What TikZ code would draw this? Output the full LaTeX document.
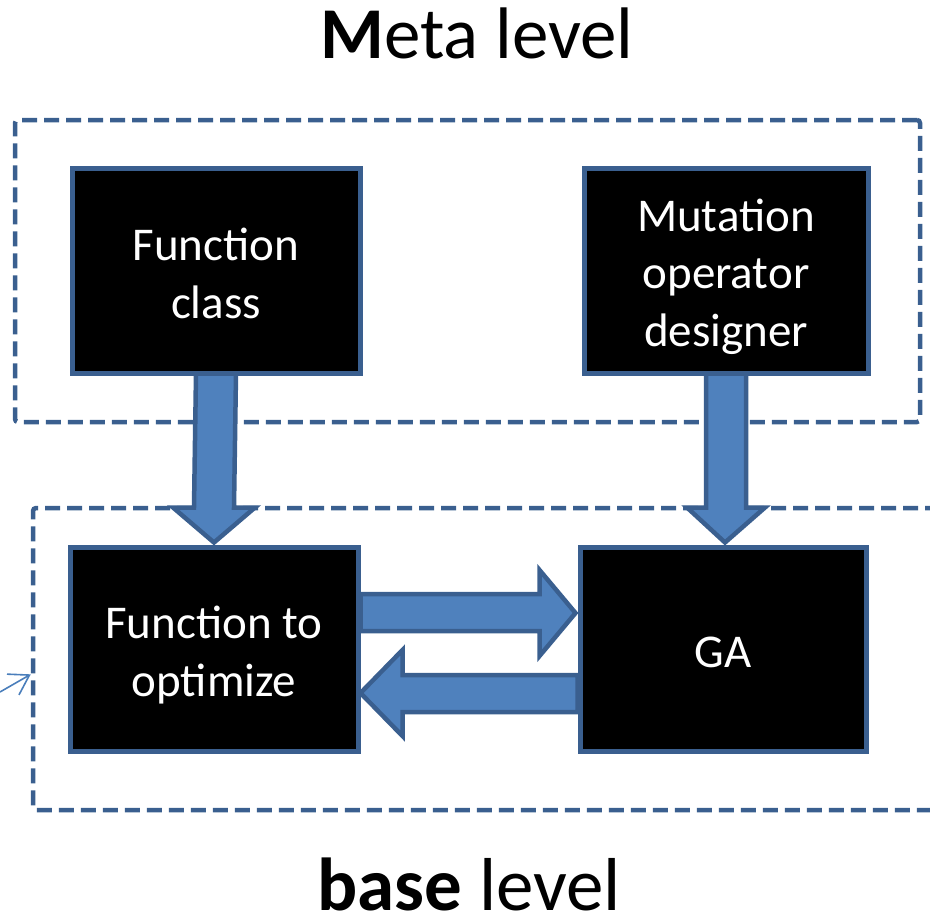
\documentclass[tikz,border=0pt]{standalone}
\usepackage{fontspec}
\setmainfont{Carlito}
\usetikzlibrary{calc,arrows.meta}
\definecolor{edgeblue}{HTML}{3A5F8F}
\definecolor{fillblue}{HTML}{4F81BD}
\definecolor{thinblue}{HTML}{4A7EBB}
\tikzset{
  blackbox/.style={draw=edgeblue, line width=5pt, fill=black, inner sep=0pt},
  boxtext/.style={text=white, align=center, inner sep=0pt,
    font=\fontsize{47}{57.5}\selectfont},
  dashbox/.style={draw=edgeblue, line width=4.5pt, dash pattern=on 15pt off 7pt,
    rounded corners=3pt, inner sep=0pt},
  blockarrow/.style={draw=edgeblue, fill=fillblue, line width=4.5pt, line join=miter},
  smallarrow/.style={draw=thinblue, line width=1.6pt, -{Straight Barb[length=19pt,width=24pt]}},
  title/.style={anchor=base, inner sep=0pt, text=black}
}
\begin{document}
\begin{tikzpicture}[x=1pt,y=-1pt]
\useasboundingbox (0,0) rectangle (930,922);
\clip (0,0) rectangle (930,922);
% dashed level frames
\node[dashbox, minimum width=905pt, minimum height=302pt] (meta) at (467.5,271) {};
\node[dashbox, minimum width=910pt, minimum height=302pt] (base) at (488,659) {};
% titles
\node[title, font=\fontsize{73}{88}\selectfont] (metat) at (477,58) {\textbf{M}eta level};
\node[title, font=\fontsize{75}{90}\selectfont] (baset) at (469,910) {\textbf{base} level};
% boxes
\node[blackbox, minimum width=288pt, minimum height=205pt] (fc) at (216,270.5) {};
\node[blackbox, minimum width=284pt, minimum height=205pt] (mod) at (726,270.5) {};
\node[blackbox, minimum width=288pt, minimum height=204pt] (fo) at (214,649) {};
\node[blackbox, minimum width=286pt, minimum height=204pt] (ga) at (723,649) {};
\node[boxtext] (fctext) at ($(fc.center)+(0,3)$) {Function\\class};
\node[boxtext] (modtext) at ($(mod.center)+(0,6)$) {Mutation\\operator\\designer};
\node[boxtext] (fotext) at ($(fo.center)+(0,6)$) {Function to\\optimize};
\node[boxtext] (gatext) at ($(ga.center)+(0,3)$) {GA};
% block arrows
\draw[blockarrow] ($(fc.south)+(-20,-2)$) -- ($(fc.south)+(20,-2)$)
  -- ($(fo.north)+(20,-37)$) -- ($(fo.north)+(41,-37)$) -- ($(fo.north)+(0,-2)$)
  -- ($(fo.north)+(-41,-37)$) -- ($(fo.north)+(-20,-37)$) -- cycle;
\draw[blockarrow] ($(mod.south)+(-20,-2)$) -- ($(mod.south)+(20,-2)$)
  -- ($(ga.north)+(23,-37)$) -- ($(ga.north)+(42,-37)$) -- ($(ga.north)+(2,-2)$)
  -- ($(ga.north)+(-36,-37)$) -- ($(ga.north)+(-17,-37)$) -- cycle;
\draw[blockarrow] ($(fo.east)+(0,-55)$) -- ($(ga.west)+(-38,-55)$)
  -- ($(ga.west)+(-38,-79)$) -- ($(ga.west)+(-2,-36)$) -- ($(ga.west)+(-38,7)$)
  -- ($(ga.west)+(-38,-18)$) -- ($(fo.east)+(0,-18)$) -- cycle;
\draw[blockarrow] ($(ga.west)+(0,26)$) -- ($(fo.east)+(42,26)$)
  -- ($(fo.east)+(42,1)$) -- ($(fo.east)+(0,44)$) -- ($(fo.east)+(42,87)$)
  -- ($(fo.east)+(42,63)$) -- ($(ga.west)+(0,63)$) -- cycle;
% small pointer arrow
\coordinate (src) at (0,692);
\draw[smallarrow] (src) -- ($(base.north west)!0.55!(base.south west)$);
\end{tikzpicture}
\end{document}
